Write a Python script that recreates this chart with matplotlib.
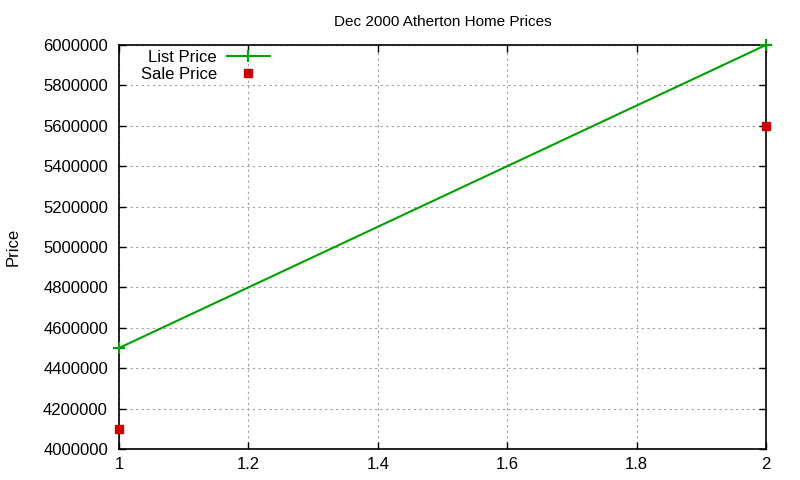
import matplotlib.pyplot as plt
from matplotlib.ticker import FuncFormatter

plt.rcParams['font.family'] = ['Liberation Sans', 'DejaVu Sans']

x_vals = [1, 2]
list_price = [4500000, 6000000]
sale_price = [4100000, 5600000]

fig = plt.figure(figsize=(8, 4.8), dpi=100)
ax = fig.add_axes([0.14875, 0.0646, 0.80875, 0.8417])

ax.plot(x_vals, list_price, color="#00a000", linewidth=1.5, marker="+",
        markersize=9, markeredgewidth=1.5, label="List Price", clip_on=False, zorder=3)
ax.plot(x_vals, sale_price, color="#cc0000", linestyle="none", marker="s",
        markersize=6.2, label="Sale Price", clip_on=False, zorder=3)

ax.set_xlim(1, 2)
ax.set_ylim(4000000, 6000000)
ax.set_xticks([1, 1.2, 1.4, 1.6, 1.8, 2])
ax.set_yticks(range(4000000, 6000001, 200000))
ax.xaxis.set_major_formatter(FuncFormatter(lambda v, p: f"{v:g}"))
ax.yaxis.set_major_formatter(FuncFormatter(lambda v, p: f"{int(v)}"))
ax.tick_params(direction="in", length=5, width=1, labelsize=12, top=True, right=True,
               colors="black")
ax.tick_params(axis="x", pad=6)
ax.tick_params(axis="y", pad=8)
ax.grid(True, color="#a0a0a0", linestyle=(0, (2, 3)), linewidth=0.8)
for s in ax.spines.values():
    s.set_linewidth(1.2)

ax.set_title("Dec 2000 Atherton Home Prices", fontsize=11, pad=14)
ax.set_ylabel("Price", fontsize=12, labelpad=16)

ax.legend(loc="upper left", bbox_to_anchor=(0.0155, 1.017), frameon=False,
          markerfirst=False, fontsize=12, handlelength=2.6, handletextpad=0.6,
          labelspacing=0.12, borderaxespad=0.3)

fig.savefig("out.png", dpi=100)
